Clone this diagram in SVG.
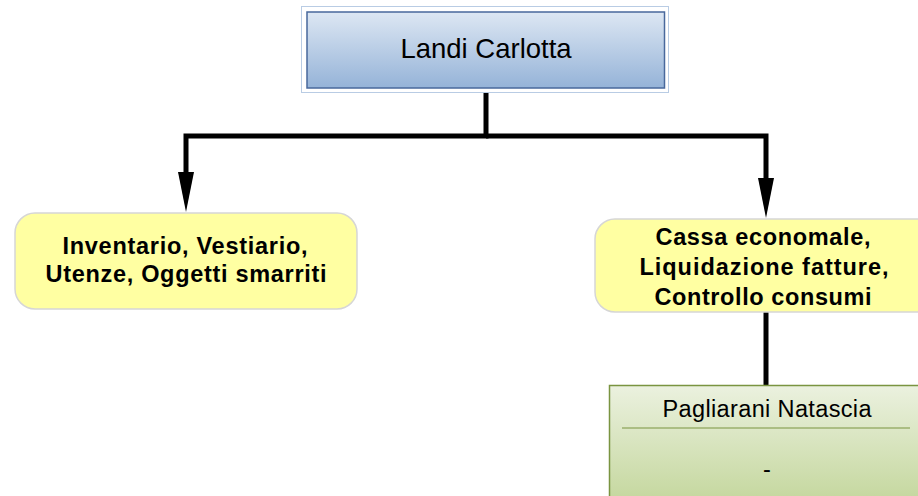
<svg xmlns="http://www.w3.org/2000/svg" width="918" height="496" viewBox="0 0 918 496">
<style>
.t{font-family:"Liberation Sans",Arial,sans-serif;fill:#000;text-anchor:middle}
.b{font-weight:bold;font-size:23.5px}
.conn{fill:none;stroke:#000;stroke-width:5}
.yel{fill:#ffffa2;stroke:#d6d6d6;stroke-width:1.5}
</style>
<defs>
<linearGradient id="gb" x1="0" y1="0" x2="0" y2="1">
<stop offset="0" stop-color="#dde7f3"/>
<stop offset="1" stop-color="#95b3d8"/>
</linearGradient>
<linearGradient id="gg" x1="0" y1="0" x2="0" y2="1">
<stop offset="0" stop-color="#ebf1df"/>
<stop offset="1" stop-color="#c0d496"/>
</linearGradient>
<marker id="ah" markerUnits="userSpaceOnUse" markerWidth="42" markerHeight="18" refX="0" refY="8" orient="auto" viewBox="0 0 42 16" overflow="visible">
<path d="M0,0 L40,8 L0,16 z" fill="#000"/>
</marker>
</defs>
<g id="connectors">
<path class="conn" d="M486,93 V136 H186 V172" marker-end="url(#ah)"/>
<path class="conn" d="M486,136 H766 V178" marker-end="url(#ah)"/>
<path class="conn" d="M766,312 V385"/>
</g>
<g id="node-landi">
<rect x="301.5" y="6.5" width="367" height="86" fill="#fff" stroke="#b9cce4" stroke-width="1"/>
<rect x="307" y="12" width="357.5" height="76" fill="url(#gb)" stroke="#48689c" stroke-width="1.5"/>
<text class="t" x="486" y="58" font-size="27.5">Landi Carlotta</text>
</g>
<g id="node-inventario">
<rect class="yel" x="15" y="213" width="342" height="96" rx="20"/>
<text class="t b" x="185" y="254" textLength="245" lengthAdjust="spacing">Inventario, Vestiario,</text>
<text class="t b" x="186" y="282" textLength="281" lengthAdjust="spacing">Utenze, Oggetti smarriti</text>
</g>
<g id="node-cassa">
<rect class="yel" x="595" y="219" width="342" height="93" rx="20"/>
<text class="t b" x="763" y="245" textLength="215" lengthAdjust="spacing">Cassa economale,</text>
<text class="t b" x="764" y="275" textLength="249" lengthAdjust="spacing">Liquidazione fatture,</text>
<text class="t b" x="763" y="305" textLength="217" lengthAdjust="spacing">Controllo consumi</text>
</g>
<g id="node-pagliarani">
<rect x="609.5" y="385.5" width="320" height="130" fill="url(#gg)" stroke="#7a9440" stroke-width="1.5"/>
<text class="t" x="767" y="417" font-size="23.5" textLength="209" lengthAdjust="spacing">Pagliarani Natascia</text>
<line x1="622" y1="428" x2="910" y2="428" stroke="#7a9440" stroke-width="1.2"/>
<text class="t" x="767" y="477" font-size="23.5">-</text>
</g>
</svg>
